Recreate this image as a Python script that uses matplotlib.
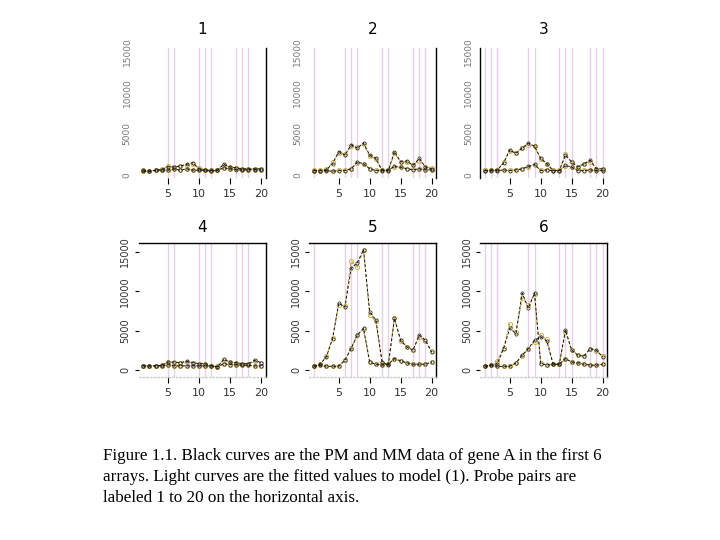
import matplotlib
matplotlib.use("Agg")
import matplotlib.pyplot as plt

probes = list(range(1, 21))

# PM / MM data (black) and fitted values (light) for the 6 arrays
pm1 = [550, 420, 550, 630, 970, 970, 1050, 1270, 1480, 720, 550, 420, 550, 1270, 970, 840, 720, 720, 720, 720]
mm1 = [420, 420, 550, 550, 550, 720, 550, 720, 550, 550, 550, 550, 550, 840, 720, 630, 550, 630, 630, 550]
fpm1 = [520, 480, 560, 640, 1050, 900, 1100, 1150, 1300, 800, 600, 480, 560, 1200, 950, 820, 760, 740, 720, 730]
fmm1 = [450, 440, 520, 560, 600, 680, 600, 690, 620, 560, 540, 540, 560, 800, 700, 640, 580, 620, 610, 570]

pm2 = [500, 500, 590, 1350, 2830, 2400, 3670, 3250, 3880, 2400, 2000, 500, 500, 2830, 1560, 1690, 1140, 2000, 930, 720]
mm2 = [500, 500, 500, 420, 500, 500, 720, 1560, 1350, 720, 500, 590, 590, 1010, 930, 720, 590, 720, 590, 590]
fpm2 = [520, 540, 650, 1500, 2700, 2500, 3500, 3400, 3700, 2300, 1900, 600, 560, 2600, 1600, 1500, 1200, 1700, 1000, 800]
fmm2 = [510, 500, 520, 480, 540, 560, 760, 1450, 1300, 760, 540, 600, 600, 980, 900, 760, 640, 720, 620, 600]

pm3 = [500, 500, 590, 1430, 3040, 2600, 3250, 3880, 3460, 2000, 1350, 500, 500, 2400, 1560, 930, 1350, 1770, 720, 720]
mm3 = [500, 590, 500, 590, 500, 590, 720, 1010, 1260, 500, 590, 500, 500, 1140, 930, 500, 500, 590, 500, 500]
fpm3 = [520, 540, 620, 1500, 2900, 2700, 3300, 3600, 3500, 1900, 1300, 560, 540, 2500, 1500, 1000, 1300, 1600, 760, 740]
fmm3 = [520, 560, 520, 580, 540, 600, 740, 1000, 1200, 560, 580, 520, 520, 1100, 900, 560, 540, 580, 520, 520]

pm4 = [550, 550, 550, 630, 1050, 1050, 970, 1140, 970, 840, 840, 550, 420, 1390, 1050, 970, 840, 840, 1270, 970]
mm4 = [550, 550, 550, 550, 720, 550, 550, 550, 550, 550, 550, 550, 420, 840, 720, 720, 630, 630, 550, 550]
fpm4 = [560, 560, 570, 650, 1000, 980, 950, 1050, 940, 820, 800, 580, 480, 1300, 1000, 920, 820, 800, 1150, 920]
fmm4 = [560, 550, 560, 570, 700, 580, 580, 600, 580, 570, 560, 560, 470, 820, 720, 700, 640, 630, 600, 580]

pm5 = [500, 760, 1700, 4000, 8500, 8000, 12900, 13600, 15250, 7400, 6350, 1050, 650, 6550, 3800, 2950, 2550, 4450, 3800, 2300]
mm5 = [500, 640, 500, 500, 500, 1270, 2750, 4450, 5300, 1050, 760, 640, 760, 1480, 1200, 930, 760, 760, 760, 1050]
fpm5 = [520, 780, 1750, 4100, 8300, 8100, 13800, 13100, 15250, 7000, 6200, 900, 800, 6600, 3700, 3000, 2600, 4200, 3700, 2400]
fmm5 = [520, 620, 560, 540, 560, 1300, 2800, 4500, 5200, 1000, 800, 700, 800, 1400, 1150, 950, 800, 780, 800, 1000]

pm6 = [500, 640, 850, 2750, 5300, 4650, 9750, 7850, 9750, 850, 640, 760, 760, 5100, 2550, 1900, 1780, 2750, 2550, 1700]
mm6 = [500, 640, 500, 500, 500, 930, 1900, 2750, 3800, 4200, 3700, 760, 760, 1480, 1050, 930, 760, 640, 640, 760]
fpm6 = [520, 660, 1200, 2800, 5900, 4900, 9100, 8250, 9600, 900, 700, 780, 780, 4900, 2600, 1950, 1800, 2700, 2500, 1750]
fmm6 = [520, 620, 540, 520, 540, 900, 1800, 2700, 3600, 4450, 3900, 800, 780, 1400, 1050, 950, 800, 700, 680, 780]

# probe positions marked with vertical lines
vlines1 = [5, 6, 10, 11, 12, 16, 17, 18]
vlines2 = [1, 6, 7, 8, 12, 13, 17, 18, 19]
vlines3 = [1, 2, 3, 8, 9, 13, 14, 15, 18, 19, 20]

titles = ["1", "2", "3", "4", "5", "6"]
xticks = [5, 10, 15, 20]
yticks = [0, 5000, 10000, 15000]

caption = ("Figure 1.1. Black curves are the PM and MM data of gene A in the first 6\n"
           "arrays. Light curves are the fitted values to model (1). Probe pairs are\n"
           "labeled 1 to 20 on the horizontal axis.")

panels = [
    (pm1, mm1, fpm1, fmm1, vlines1),
    (pm2, mm2, fpm2, fmm2, vlines2),
    (pm3, mm3, fpm3, fmm3, vlines3),
    (pm4, mm4, fpm4, fmm4, vlines1),
    (pm5, mm5, fpm5, fmm5, vlines2),
    (pm6, mm6, fpm6, fmm6, vlines3),
]

W, H = 720, 540
lefts = [138.5, 309.3, 480.3]
rows = [(48, 178), (243, 377)]
pink = "#E6D0E6"
gold = "#C8A640"

fig = plt.figure(figsize=(7.2, 5.4), dpi=100)

for i, (pm, mm, fpm, fmm, vl) in enumerate(panels):
    r, c = divmod(i, 3)
    top, bot = rows[r]
    ax = fig.add_axes([lefts[c] / W, 1 - bot / H, 127 / W, (bot - top) / H])

    for v in vl:
        ax.axvline(v, color=pink, lw=1.0, zorder=0)

    # fitted values
    for s in (fpm, fmm):
        ax.plot(probes, s, ls=(0, (3, 2)), color=gold, lw=0.8, marker="o", ms=3,
                mfc="none", mec=gold, mew=0.6, zorder=2)
    # data
    for s in (pm, mm):
        ax.plot(probes, s, ls=(0, (3, 2)), color="#111111", lw=0.7, marker="o", ms=2.3,
                mfc="none", mec="#222222", mew=0.5, zorder=3)

    ax.set_xlim(0.24, 20.76)
    if r == 0:
        ax.set_ylim(-400, 15500)
    else:
        ax.set_ylim(-850, 16100)
    ax.set_xticks(xticks)
    ax.set_yticks(yticks)
    ax.set_title(titles[i], fontsize=11, pad=10 if r == 0 else 8)

    for sp in ax.spines.values():
        sp.set_visible(False)
    if r == 0:
        if c < 2:
            ax.spines["right"].set_visible(True)
        else:
            ax.spines["left"].set_visible(True)
        ax.tick_params(axis="y", length=0, pad=5, labelsize=6.5, labelcolor="#777777")
    else:
        ax.spines["top"].set_visible(True)
        ax.spines["right"].set_visible(True)
        ax.spines["bottom"].set_visible(True)
        ax.spines["bottom"].set_color("#cccccc")
        ax.spines["bottom"].set_linestyle(":")
        ax.tick_params(axis="y", length=3, pad=3, labelsize=7, labelcolor="#333333")
    for sp in ax.spines.values():
        sp.set_linewidth(1.0)
    ax.tick_params(axis="x", length=4, pad=4, labelsize=8, labelcolor="#333333")
    for lab in ax.get_yticklabels():
        lab.set_rotation(90)
        lab.set_va("center")

fig.text(103 / W, 1 - 448 / H, caption, family="Liberation Serif", fontsize=12.25,
         va="top", ha="left", linespacing=1.42)

fig.savefig("out.png", dpi=100)
